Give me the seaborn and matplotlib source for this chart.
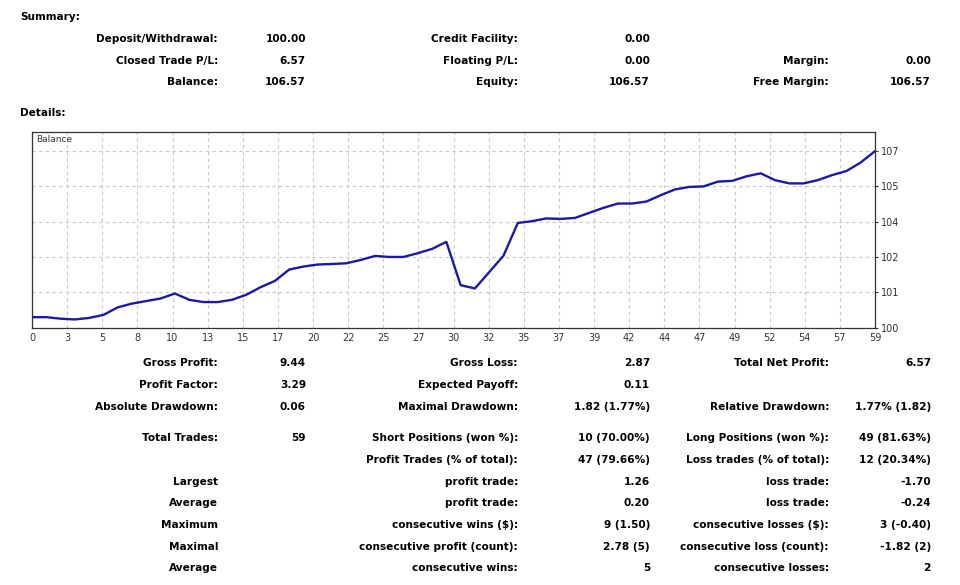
import numpy as np
import pandas as pd
import matplotlib
matplotlib.use("Agg")
import matplotlib.pyplot as plt
import seaborn as sns

# ---------------- data ----------------
trades = list(range(60))
balance = [100.41, 100.41, 100.35, 100.32, 100.38, 100.50, 100.80, 100.95, 101.05, 101.15,
           101.35, 101.10, 101.01, 101.01, 101.10, 101.30, 101.60, 101.85, 102.30, 102.42,
           102.50, 102.52, 102.55, 102.68, 102.84, 102.80, 102.80, 102.95, 103.12, 103.40,
           101.68, 101.55, 102.20, 102.85, 104.15, 104.22, 104.33, 104.31, 104.35, 104.55,
           104.75, 104.92, 104.92, 105.00, 105.25, 105.48, 105.58, 105.60, 105.79, 105.82,
           106.00, 106.12, 105.85, 105.72, 105.72, 105.85, 106.05, 106.21, 106.55, 107.00]

x_tick_labels = ["0", "3", "5", "8", "10", "13", "15", "17", "20", "22", "25", "27", "30",
                 "32", "35", "37", "39", "42", "44", "47", "49", "52", "54", "57", "59"]
y_tick_labels = ["100", "101", "102", "104", "105", "107"]

summary_labels_1 = ["Deposit/Withdrawal:", "Closed Trade P/L:", "Balance:"]
summary_values_1 = ["100.00", "6.57", "106.57"]
summary_labels_2 = ["Credit Facility:", "Floating P/L:", "Equity:"]
summary_values_2 = ["0.00", "0.00", "106.57"]
summary_labels_3 = ["", "Margin:", "Free Margin:"]
summary_values_3 = ["", "0.00", "106.57"]

detail_labels_1 = ["Gross Profit:", "Profit Factor:", "Absolute Drawdown:", "Total Trades:", "",
                   "Largest", "Average", "Maximum", "Maximal", "Average"]
detail_values_1 = ["9.44", "3.29", "0.06", "59", "", "", "", "", "", ""]
detail_labels_2 = ["Gross Loss:", "Expected Payoff:", "Maximal Drawdown:", "Short Positions (won %):",
                   "Profit Trades (% of total):", "profit trade:", "profit trade:",
                   "consecutive wins ($):", "consecutive profit (count):", "consecutive wins:"]
detail_values_2 = ["2.87", "0.11", "1.82 (1.77%)", "10 (70.00%)", "47 (79.66%)", "1.26", "0.20",
                   "9 (1.50)", "2.78 (5)", "5"]
detail_labels_3 = ["Total Net Profit:", "", "Relative Drawdown:", "Long Positions (won %):",
                   "Loss trades (% of total):", "loss trade:", "loss trade:",
                   "consecutive losses ($):", "consecutive loss (count):", "consecutive losses:"]
detail_values_3 = ["6.57", "", "1.77% (1.82)", "49 (81.63%)", "12 (20.34%)", "-1.70", "-0.24",
                   "3 (-0.40)", "-1.82 (2)", "2"]

# ---------------- figure ----------------
sns.set_style("white")
plt.rcParams["font.family"] = ["DejaVu Sans"]

W, H = 960, 585
fig = plt.figure(figsize=(W / 100, H / 100), dpi=100)
fig.patch.set_facecolor("white")

def px(x, y):
    return x / W, 1 - y / H

FS = 7.6

def put(x, y, s, ha="right", weight="bold", size=FS):
    if s:
        fx, fy = px(x, y)
        fig.text(fx, fy, s, ha=ha, va="center", fontsize=size, fontweight=weight, color="black")

put(20, 17, "Summary:", ha="left")
put(20, 113, "Details:", ha="left")

summary_rows = [39, 61, 82]
for i, yy in enumerate(summary_rows):
    put(218, yy, summary_labels_1[i]); put(306, yy, summary_values_1[i])
    put(518, yy, summary_labels_2[i]); put(650, yy, summary_values_2[i])
    put(829, yy, summary_labels_3[i]); put(931, yy, summary_values_3[i])

detail_rows = [363, 385, 407, 438, 460, 482, 503, 525, 547, 568]
for i, yy in enumerate(detail_rows):
    put(218, yy, detail_labels_1[i]); put(306, yy, detail_values_1[i])
    put(518, yy, detail_labels_2[i]); put(650, yy, detail_values_2[i])
    put(829, yy, detail_labels_3[i]); put(931, yy, detail_values_3[i])

# ---------------- chart ----------------
left, right, top, bottom = 32, 875, 132, 327.5
ax = fig.add_axes([left / W, 1 - bottom / H, (right - left) / W, (bottom - top) / H])
df = pd.DataFrame({"trade": trades, "balance": balance})
sns.lineplot(data=df, x="trade", y="balance", ax=ax, color="#1a1aa6", linewidth=1.7)

ax.set_xlim(0, 59)
y_ticks = np.linspace(100, 107, 6)
ax.set_ylim(100, 107 + (151 - top) / 35 * 1.4)
ax.set_xticks(np.linspace(0, 59, 25))
ax.set_xticklabels(x_tick_labels)
ax.set_yticks(y_ticks)
ax.set_yticklabels(y_tick_labels)
ax.yaxis.tick_right()
ax.tick_params(axis="both", labelsize=7, colors="#333333", length=2, width=0.8, pad=2)
ax.set_xlabel("")
ax.set_ylabel("")
ax.grid(True, color="#c8c8c8", linestyle=(0, (3, 3)), linewidth=0.8)
for sp in ax.spines.values():
    sp.set_color("#333333")
    sp.set_linewidth(0.9)
    sp.set_visible(True)
ax.text(0.005, 0.985, "Balance", transform=ax.transAxes, ha="left", va="top",
        fontsize=6.5, color="#333333")

fig.savefig("out.png", dpi=100, facecolor="white")
